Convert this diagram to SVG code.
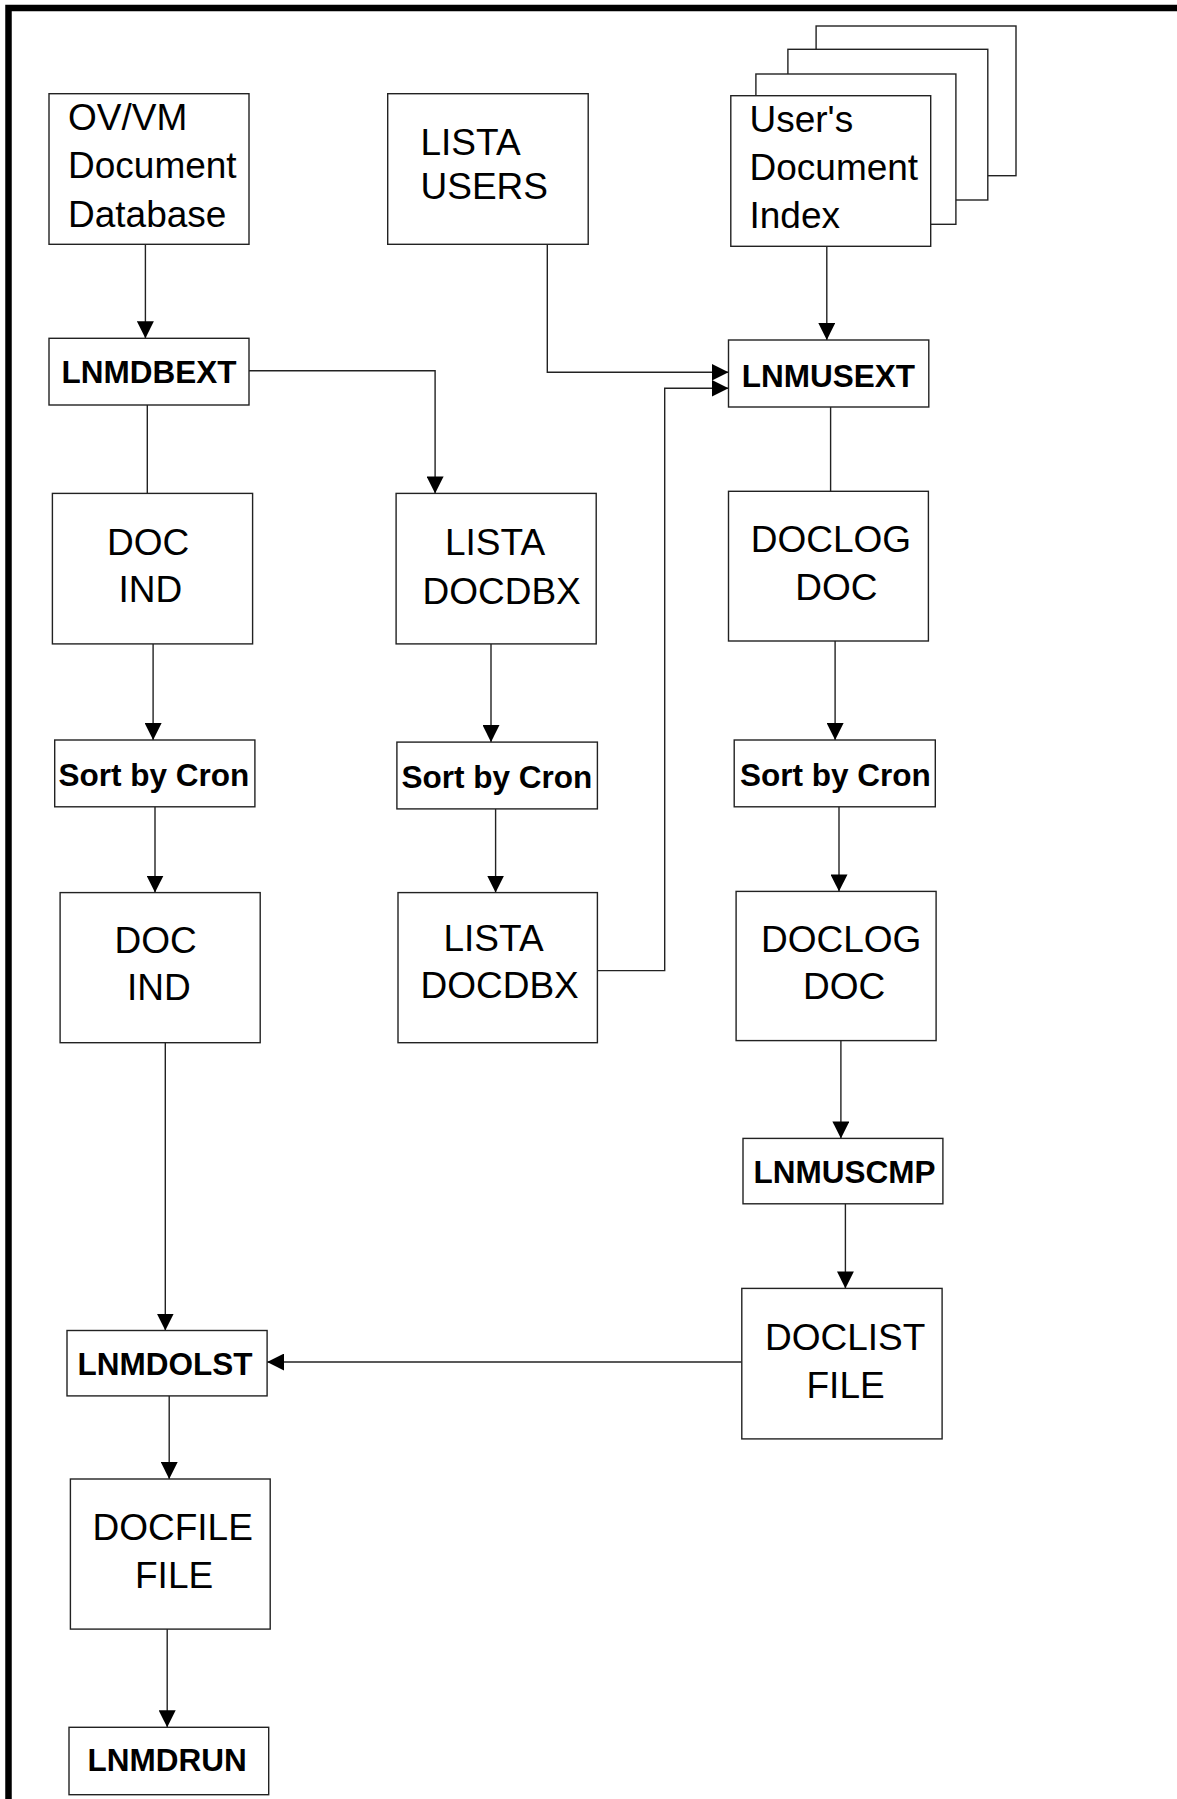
<svg xmlns="http://www.w3.org/2000/svg" width="1177" height="1799" viewBox="0 0 1177 1799">
<defs>
<style>
.box{fill:#fff;stroke:#222;stroke-width:1.4}
.t{font-family:"Liberation Sans",Arial,sans-serif;font-size:37px;fill:#000}
.b{font-family:"Liberation Sans",Arial,sans-serif;font-size:31.5px;font-weight:bold;fill:#000}
.c{fill:none;stroke:#222;stroke-width:1.4}
.a{marker-end:url(#arr)}
</style>
<marker id="arr" viewBox="0 0 10 10" refX="10" refY="5" markerWidth="17" markerHeight="17" markerUnits="userSpaceOnUse" orient="auto">
<path d="M0,0 L10,5 L0,10 z" fill="#000"/>
</marker>
</defs>
<rect width="1177" height="1799" fill="#fff"/>
<path d="M8.5,1799 V8 H1177" fill="none" stroke="#000" stroke-width="6.5"/>

<g id="connectors">
<path class="c a" d="M145.4,244.3 V338.3"/>
<path class="c a" d="M249,370.7 H435.1 V493.4"/>
<path class="c" d="M147.3,405 V493.4"/>
<path class="c a" d="M547.3,244.3 V372.3 H728.5"/>
<path class="c a" d="M826.8,246.3 V340"/>
<path class="c" d="M830.6,407 V491.3"/>
<path class="c a" d="M153.1,643.9 V740"/>
<path class="c a" d="M155,806.8 V892.6"/>
<path class="c a" d="M491,643.9 V742.1"/>
<path class="c a" d="M495.6,808.9 V892.6"/>
<path class="c a" d="M597.4,970.6 H664.7 V388.3 H728.5"/>
<path class="c a" d="M835.1,641 V740"/>
<path class="c a" d="M839,806.8 V891.4"/>
<path class="c a" d="M840.9,1040.6 V1138.4"/>
<path class="c a" d="M845.4,1203.8 V1288.4"/>
<path class="c a" d="M741.8,1362 H267.1"/>
<path class="c a" d="M165.3,1042.7 V1330.5"/>
<path class="c a" d="M169.2,1395.9 V1479"/>
<path class="c a" d="M167.2,1629.1 V1727.3"/>
</g>

<g id="ovvm">
<rect class="box" x="49" y="93.7" width="200" height="150.6"/>
<text class="t" x="68" y="130">OV/VM</text>
<text class="t" x="68" y="178.3">Document</text>
<text class="t" x="68" y="226.7">Database</text>
</g>

<g id="listausers">
<rect class="box" x="387.7" y="93.7" width="200.5" height="150.6"/>
<text class="t" x="420.5" y="155">LISTA</text>
<text class="t" x="420.5" y="199">USERS</text>
</g>

<g id="userdocindex">
<rect class="box" x="816.1" y="26" width="199.9" height="149.7"/>
<rect class="box" x="787.9" y="49.3" width="199.9" height="150.7"/>
<rect class="box" x="755.9" y="74" width="200" height="150.3"/>
<rect class="box" x="730.8" y="95.7" width="199.9" height="150.6"/>
<text class="t" x="749.5" y="131.7">User's</text>
<text class="t" x="749.5" y="180">Document</text>
<text class="t" x="749.5" y="228.3">Index</text>
</g>

<g id="lnmdbext">
<rect class="box" x="49" y="338.3" width="200" height="66.7"/>
<text class="b" x="61.5" y="383.3">LNMDBEXT</text>
</g>

<g id="lnmusext">
<rect class="box" x="728.5" y="340" width="200.3" height="67"/>
<text class="b" x="741.8" y="386.7">LNMUSEXT</text>
</g>

<g id="docind1">
<rect class="box" x="52.4" y="493.4" width="200.2" height="150.5"/>
<text class="t" x="107" y="554.7">DOC</text>
<text class="t" x="118.5" y="602.4">IND</text>
</g>

<g id="listadocdbx1">
<rect class="box" x="396.1" y="493.4" width="200.1" height="150.5"/>
<text class="t" x="445" y="554.7">LISTA</text>
<text class="t" x="422.5" y="603.7">DOCDBX</text>
</g>

<g id="doclogdoc1">
<rect class="box" x="728.5" y="491.3" width="199.9" height="149.7"/>
<text class="t" x="750.8" y="551.8">DOCLOG</text>
<text class="t" x="795.3" y="599.5">DOC</text>
</g>

<g id="sort1">
<rect class="box" x="54.7" y="740" width="200.2" height="66.8"/>
<text class="b" x="58.5" y="785.7">Sort by Cron</text>
</g>

<g id="sort2">
<rect class="box" x="396.9" y="742.1" width="200.5" height="66.8"/>
<text class="b" x="401.5" y="787.7">Sort by Cron</text>
</g>

<g id="sort3">
<rect class="box" x="734.2" y="740" width="201.1" height="66.8"/>
<text class="b" x="740" y="785.7">Sort by Cron</text>
</g>

<g id="docind2">
<rect class="box" x="60.1" y="892.6" width="200.1" height="150.1"/>
<text class="t" x="114.5" y="952.8">DOC</text>
<text class="t" x="127" y="1000.4">IND</text>
</g>

<g id="listadocdbx2">
<rect class="box" x="398" y="892.6" width="199.4" height="150.1"/>
<text class="t" x="443.5" y="950.7">LISTA</text>
<text class="t" x="420.5" y="998.4">DOCDBX</text>
</g>

<g id="doclogdoc2">
<rect class="box" x="736.1" y="891.4" width="200" height="149.2"/>
<text class="t" x="761" y="951.9">DOCLOG</text>
<text class="t" x="803" y="999.2">DOC</text>
</g>

<g id="lnmuscmp">
<rect class="box" x="743" y="1138.4" width="199.9" height="65.4"/>
<text class="b" x="753.5" y="1182.8">LNMUSCMP</text>
</g>

<g id="doclistfile">
<rect class="box" x="741.8" y="1288.4" width="200.3" height="150.5"/>
<text class="t" x="765" y="1350">DOCLIST</text>
<text class="t" x="806.5" y="1397.8">FILE</text>
</g>

<g id="lnmdolst">
<rect class="box" x="67" y="1330.5" width="200.1" height="65.4"/>
<text class="b" x="77.5" y="1374.9">LNMDOLST</text>
</g>

<g id="docfilefile">
<rect class="box" x="70.4" y="1479" width="199.8" height="150.1"/>
<text class="t" x="92.5" y="1539.7">DOCFILE</text>
<text class="t" x="135" y="1587.5">FILE</text>
</g>

<g id="lnmdrun">
<rect class="box" x="69" y="1727.3" width="199.7" height="67.4"/>
<text class="b" x="87.5" y="1770.7">LNMDRUN</text>
</g>
</svg>
